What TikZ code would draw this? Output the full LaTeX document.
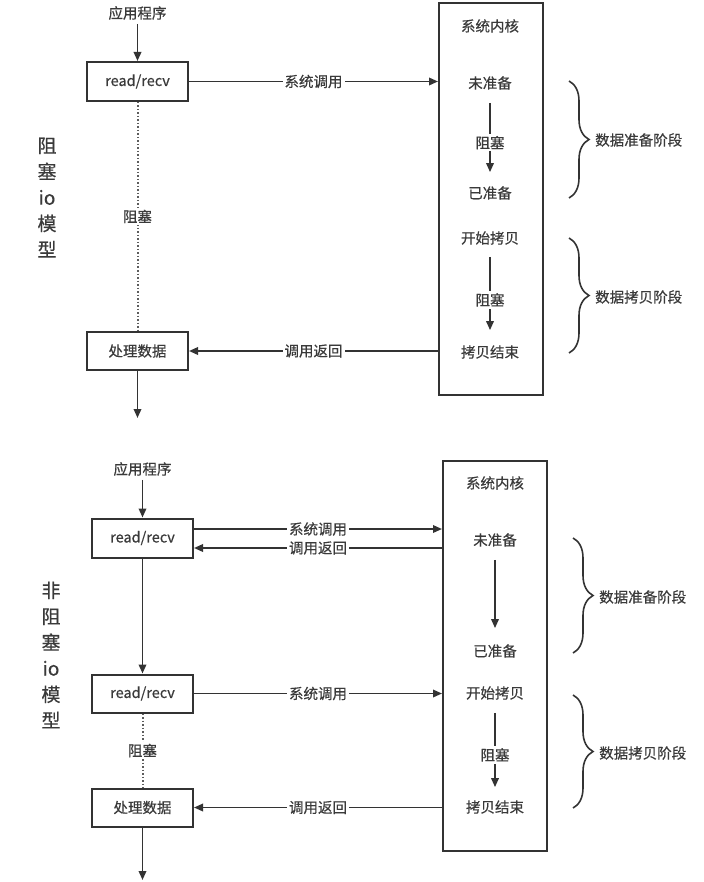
\documentclass[tikz,border=0pt]{standalone}
\usepackage{fontspec}
\setmainfont{Noto Sans CJK SC}[FakeBold=0.5]
\usetikzlibrary{arrows.meta,decorations.pathreplacing}
\definecolor{lncol}{HTML}{333333}
\definecolor{txcol}{HTML}{3A3A3A}
\begin{document}
\begin{tikzpicture}[x=1pt,y=-1pt,
  every node/.style={text=txcol, font=\fontsize{14.5}{16}\selectfont, inner sep=1pt},
  box/.style={draw=lncol, line width=2pt, minimum width=101pt, minimum height=39pt},
  kern/.style={draw=lncol, line width=2pt},
  arr/.style={draw=lncol, line width=1.8pt, -{Triangle[length=9pt,width=7.5pt]}},
  dots/.style={draw=lncol!80, line width=2pt, dash pattern=on 1.5pt off 2pt},
  lbl/.style={fill=white, inner sep=2pt},
  brc/.style={draw=lncol, line width=1.6pt, decorate, decoration={brace, amplitude=20pt, aspect=0.5}},
  side/.style={font=\fontsize{19}{26}\selectfont, align=center}
]
\useasboundingbox (0,0) rectangle (703,882);

% ---------- blocking io ----------
\node (app1) at (137.5,13) {应用程序};
\node[box] (rr1) at (137.5,81.5) {read/recv};
\node[box, minimum height=38pt] (pd1) at (137.5,351) {处理数据};
\node[kern, minimum width=104pt, minimum height=392pt] (k1) at (491,199) {};
\node (k1t) at (490,26) {系统内核};
\node (k1a) at (490,83) {未准备};
\node (k1b) at (490,193) {已准备};
\node (k1c) at (490,238) {开始拷贝};
\node (k1d) at (490,352) {拷贝结束};
\node[side] (s1) at (47,197.5) {阻\\塞\\io\\模\\型};
\coordinate (out1) at (137.5,418);

\draw[arr, shorten <=3pt] (app1) -- (rr1);
\draw[arr] (rr1.east) -- node[lbl]{系统调用} (rr1.east -| k1.west);
\draw[arr] (pd1.east -| k1.west) -- node[lbl]{调用返回} (pd1.east);
\draw[dots] (rr1) -- node[lbl]{阻塞} (pd1);
\draw[arr] (pd1) -- (out1);
\draw[arr, shorten <=12pt, shorten >=13pt] (k1a) -- node[lbl, pos=0.55]{阻塞} (k1b);
\draw[arr, shorten <=11pt, shorten >=14pt] (k1c) -- node[lbl, pos=0.55]{阻塞} (k1d);

\draw[brc] (569,81) -- (569,198);
\node[anchor=west] (ph1) at (594,140) {数据准备阶段};
\draw[brc] (569,238) -- (569,353);
\node[anchor=west] (ph2) at (594,297) {数据拷贝阶段};

% ---------- non-blocking io ----------
\node (app2) at (142.5,469) {应用程序};
\node[box] (rr2) at (142.5,538) {read/recv};
\node[box, minimum height=38pt] (rr3) at (142.5,693.5) {read/recv};
\node[box, minimum height=38pt] (pd2) at (142.5,807.5) {处理数据};
\node[kern, minimum width=104pt, minimum height=390pt] (k2) at (495,656) {};
\node (k2t) at (495,483) {系统内核};
\node (k2a) at (495,540) {未准备};
\node (k2b) at (495,651) {已准备};
\node (k2c) at (495,693) {开始拷贝};
\node (k2d) at (495,807) {拷贝结束};
\node[side] (s2) at (51,655) {非\\阻\\塞\\io\\模\\型};
\coordinate (out2) at (142.5,880);

\draw[arr, shorten <=3pt] (app2) -- (rr2);
\draw[arr] ([yshift=9pt]rr2.east) -- node[lbl]{系统调用} ([yshift=9pt]rr2.east -| k2.west);
\draw[arr] ([yshift=-10pt]rr2.east -| k2.west) -- node[lbl]{调用返回} ([yshift=-10pt]rr2.east);
\draw[arr] (rr2) -- (rr3);
\draw[arr] (rr3.east) -- node[lbl]{系统调用} (rr3.east -| k2.west);
\draw[arr] (pd2.east -| k2.west) -- node[lbl]{调用返回} (pd2.east);
\draw[dots] (rr3) -- node[lbl]{阻塞} (pd2);
\draw[arr] (pd2) -- (out2);
\draw[arr, shorten <=12pt, shorten >=15pt] (k2a) -- (k2b);
\draw[arr, shorten <=12pt, shorten >=12pt] (k2c) -- node[lbl, pos=0.55]{阻塞} (k2d);

\draw[brc] (573,538) -- (573,653);
\node[anchor=west] (ph3) at (598,597) {数据准备阶段};
\draw[brc] (573,695) -- (573,808);
\node[anchor=west] (ph4) at (598,753) {数据拷贝阶段};
\end{tikzpicture}
\end{document}
